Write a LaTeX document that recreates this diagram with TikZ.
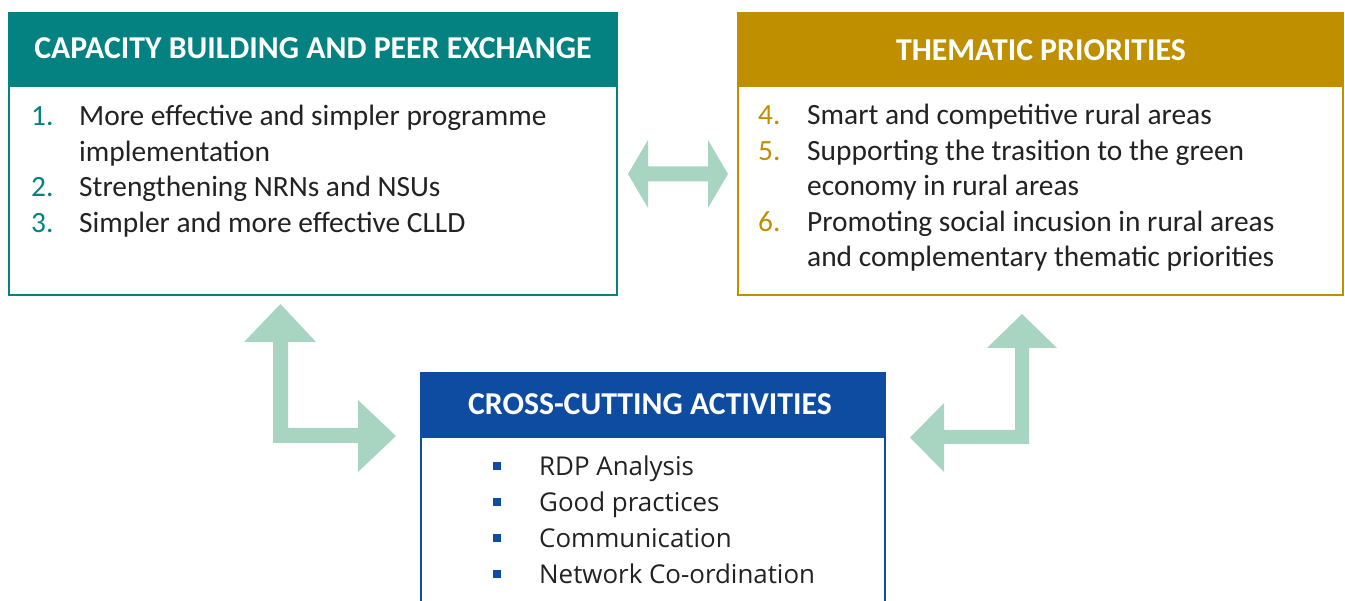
\documentclass[tikz,border=0pt]{standalone}
\usepackage{fontspec}
\setmainfont{Carlito}
\newfontfamily\bodysans{Open Sans}
\definecolor{cbteal}{HTML}{038281}
\definecolor{tpgold}{HTML}{BF8F00}
\definecolor{ccblue}{HTML}{0E4CA1}
\definecolor{arrowgreen}{HTML}{A8D5C1}
\definecolor{txt}{HTML}{222222}
\tikzset{
  headtitle/.style={anchor=base, inner sep=0pt, text=white, font=\fontsize{31.8}{31.8}\selectfont\bfseries},
  numlabel/.style={anchor=base west, inner sep=0pt, font=\fontsize{29.4}{29.4}\selectfont},
  itemtext/.style={anchor=base west, inner sep=0pt, text=txt, font=\fontsize{29.4}{29.4}\selectfont},
  ccitem/.style={anchor=base west, inner sep=0pt, text=txt, font=\bodysans\fontsize{25.9}{25.9}\selectfont},
  bulletsq/.style={fill=ccblue, minimum size=8pt, inner sep=0pt, outer sep=0pt},
  blockarrow/.style={fill=arrowgreen, draw=none},
  boxline/.style={line width=2pt, fill=white},
}
\begin{document}
\begin{tikzpicture}[x=1pt,y=-1pt]
\useasboundingbox (0,0) rectangle (1345,601);

% ---------- Box 1: capacity building ----------
\draw[boxline, draw=cbteal] (9,13) rectangle (617,295);
\fill[cbteal] (8,12) rectangle (618,87);
\node[headtitle] (t1) at (313,58.5) {CAPACITY BUILDING AND PEER EXCHANGE};
\node[numlabel, text=cbteal] (n1) at (31,126) {1.};
\node[itemtext] (i1a) at (79,126) {More effective and simpler programme};
\node[itemtext] (i1b) at (79,161.5) {implementation};
\node[numlabel, text=cbteal] (n2) at (31,197) {2.};
\node[itemtext] (i2) at (79,197) {Strengthening NRNs and NSUs};
\node[numlabel, text=cbteal] (n3) at (31,232.5) {3.};
\node[itemtext] (i3) at (79,232.5) {Simpler and more effective CLLD};

% ---------- Box 2: thematic priorities ----------
\draw[boxline, draw=tpgold] (738,13) rectangle (1343,295);
\fill[tpgold] (737,12) rectangle (1344,87);
\node[headtitle] (t2) at (1041,60.5) {THEMATIC PRIORITIES};
\node[numlabel, text=tpgold] (n4) at (758,125) {4.};
\node[itemtext] (i4) at (807,125) {Smart and competitive rural areas};
\node[numlabel, text=tpgold] (n5) at (758,160.5) {5.};
\node[itemtext] (i5a) at (807,160.5) {Supporting the trasition to the green};
\node[itemtext] (i5b) at (807,196) {economy in rural areas};
\node[numlabel, text=tpgold] (n6) at (758,231.5) {6.};
\node[itemtext] (i6a) at (807,231.5) {Promoting social incusion in rural areas};
\node[itemtext] (i6b) at (807,267) {and complementary thematic priorities};

% ---------- Box 3: cross-cutting activities ----------
\fill[white] (421,373) rectangle (885,601);
\draw[line width=2pt, draw=ccblue] (421,602) -- (421,373) -- (885,373) -- (885,602);
\fill[ccblue] (420,372) rectangle (886,438);
\node[headtitle] (t3) at (650,414.5) {CROSS-CUTTING ACTIVITIES};
\node[bulletsq] (s1) at (497,466) {};
\node[ccitem] (c1) at (539,475.5) {RDP Analysis};
\node[bulletsq] (s2) at (497,502) {};
\node[ccitem] (c2) at (539,511.5) {Good practices};
\node[bulletsq] (s3) at (497,538) {};
\node[ccitem] (c3) at (539,547.5) {Communication};
\node[bulletsq] (s4) at (497,573.5) {};
\node[ccitem] (c4) at (539,583.5) {Network Co-ordination};

% ---------- Block arrows ----------
% double arrow between box 1 and box 2
\fill[blockarrow] (628,174) -- (648,140) -- (648,166.5) -- (708,166.5) -- (708,140)
  -- (728,174) -- (708,208) -- (708,181.5) -- (648,181.5) -- (648,208) -- cycle;
% L arrow between box 1 and box 3
\fill[blockarrow] (280.5,304) -- (316,342) -- (288,342) -- (288,428) -- (358,428)
  -- (358,400) -- (396,436) -- (358,472) -- (358,443) -- (273,443) -- (273,342)
  -- (244,342) -- cycle;
% L arrow between box 3 and box 2
\fill[blockarrow] (1022,314) -- (1057,348) -- (1029,348) -- (1029,444) -- (944,444)
  -- (944,472) -- (910,437.5) -- (944,403) -- (944,430) -- (1015,430) -- (1015,348)
  -- (987,348) -- cycle;
\end{tikzpicture}
\end{document}
